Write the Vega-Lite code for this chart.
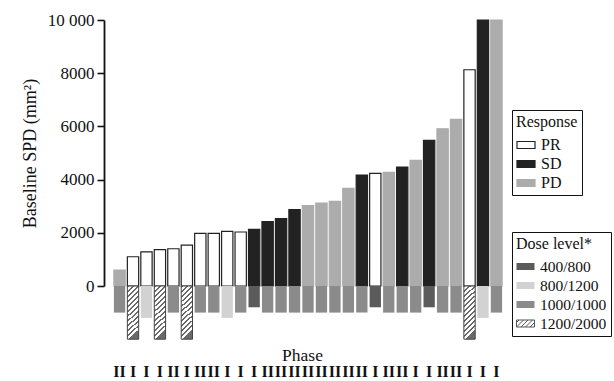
{
  "$schema": "https://vega.github.io/schema/vega-lite/v6.json",
  "width": 396,
  "height": 361,
  "autosize": {"type": "none"},
  "padding": {"left": 110, "top": 20, "right": 108, "bottom": 0},
  "background": "white",
  "config": {"font": "Liberation Serif", "view": {"stroke": null}, "axis": {"grid": false}},
  "data": {
    "values": [
      {"id": 1, "spd": 600, "resp": "PD", "dose": "1000/1000", "dose_bar": -1000, "phase": "II"},
      {"id": 2, "spd": 1100, "resp": "PR", "dose": "1200/2000", "dose_bar": -2000, "phase": "I"},
      {"id": 3, "spd": 1280, "resp": "PR", "dose": "800/1200", "dose_bar": -1200, "phase": "I"},
      {"id": 4, "spd": 1365, "resp": "PR", "dose": "1200/2000", "dose_bar": -2000, "phase": "I"},
      {"id": 5, "spd": 1400, "resp": "PR", "dose": "1000/1000", "dose_bar": -1000, "phase": "II"},
      {"id": 6, "spd": 1540, "resp": "PR", "dose": "1200/2000", "dose_bar": -2000, "phase": "I"},
      {"id": 7, "spd": 1980, "resp": "PR", "dose": "1000/1000", "dose_bar": -1000, "phase": "II"},
      {"id": 8, "spd": 1980, "resp": "PR", "dose": "1000/1000", "dose_bar": -1000, "phase": "II"},
      {"id": 9, "spd": 2050, "resp": "PR", "dose": "800/1200", "dose_bar": -1200, "phase": "I"},
      {"id": 10, "spd": 2030, "resp": "PR", "dose": "1000/1000", "dose_bar": -1000, "phase": "I"},
      {"id": 11, "spd": 2130, "resp": "SD", "dose": "400/800", "dose_bar": -800, "phase": "I"},
      {"id": 12, "spd": 2420, "resp": "SD", "dose": "1000/1000", "dose_bar": -1000, "phase": "II"},
      {"id": 13, "spd": 2530, "resp": "SD", "dose": "1000/1000", "dose_bar": -1000, "phase": "II"},
      {"id": 14, "spd": 2870, "resp": "SD", "dose": "1000/1000", "dose_bar": -1000, "phase": "II"},
      {"id": 15, "spd": 3020, "resp": "PD", "dose": "1000/1000", "dose_bar": -1000, "phase": "II"},
      {"id": 16, "spd": 3120, "resp": "PD", "dose": "1000/1000", "dose_bar": -1000, "phase": "II"},
      {"id": 17, "spd": 3180, "resp": "PD", "dose": "1000/1000", "dose_bar": -1000, "phase": "II"},
      {"id": 18, "spd": 3670, "resp": "PD", "dose": "1000/1000", "dose_bar": -1000, "phase": "II"},
      {"id": 19, "spd": 4170, "resp": "SD", "dose": "1000/1000", "dose_bar": -1000, "phase": "II"},
      {"id": 20, "spd": 4235, "resp": "PR", "dose": "400/800", "dose_bar": -800, "phase": "I"},
      {"id": 21, "spd": 4270, "resp": "PD", "dose": "1000/1000", "dose_bar": -1000, "phase": "II"},
      {"id": 22, "spd": 4470, "resp": "SD", "dose": "1000/1000", "dose_bar": -1000, "phase": "II"},
      {"id": 23, "spd": 4720, "resp": "PD", "dose": "1000/1000", "dose_bar": -1000, "phase": "I"},
      {"id": 24, "spd": 5475, "resp": "SD", "dose": "400/800", "dose_bar": -800, "phase": "I"},
      {"id": 25, "spd": 5910, "resp": "PD", "dose": "1000/1000", "dose_bar": -1000, "phase": "II"},
      {"id": 26, "spd": 6265, "resp": "PD", "dose": "1000/1000", "dose_bar": -1000, "phase": "II"},
      {"id": 27, "spd": 8130, "resp": "PR", "dose": "1200/2000", "dose_bar": -2000, "phase": "I"},
      {"id": 28, "spd": 10000, "resp": "SD", "dose": "800/1200", "dose_bar": -1200, "phase": "I"},
      {"id": 29, "spd": 10000, "resp": "PD", "dose": "1000/1000", "dose_bar": -1000, "phase": "I"}
    ]
  },
  "encoding": {
    "x": {
      "field": "id",
      "type": "ordinal",
      "scale": {"paddingInner": 0.16, "paddingOuter": 0.29},
      "axis": {
        "labels": false,
        "ticks": false,
        "domain": false,
        "title": "Phase",
        "titleFont": "Liberation Serif",
        "titleFontSize": 17.5,
        "titleFontWeight": "normal",
        "titleColor": "#111",
        "titleBaseline": "alphabetic",
        "titleX": 192,
        "titleY": -21
      }
    }
  },
  "layer": [
    {
      "mark": {"type": "bar", "strokeWidth": 1.2},
      "encoding": {
        "y": {
          "field": "spd",
          "type": "quantitative",
          "title": "Baseline SPD (mm²)",
          "scale": {"domain": [0, 10000], "range": [266, 0], "nice": false, "zero": false},
          "axis": {
            "values": [0, 2000, 4000, 6000, 8000, 10000],
            "labelExpr": "datum.value == 10000 ? '10 000' : format(datum.value, 'd')",
            "labelFont": "Liberation Serif",
            "labelFontSize": 17,
            "labelColor": "#111",
            "labelPadding": 3,
            "tickSize": 7,
            "tickWidth": 1.6,
            "tickColor": "#111",
            "domainColor": "#111",
            "domainWidth": 1.8,
            "offset": 6,
            "title": "Baseline SPD (mm²)",
            "titleFont": "Liberation Serif",
            "titleFontSize": 18,
            "titleFontWeight": "normal",
            "titleColor": "#111",
            "titlePadding": 8
          }
        },
        "fill": {
          "field": "resp",
          "type": "nominal",
          "scale": {"domain": ["PR", "SD", "PD"], "range": ["#ffffff", "#222222", "#acacac"]},
          "legend": {
            "title": "Response",
            "orient": "none",
            "legendX": 402,
            "legendY": 90,
            "padding": 4,
            "strokeColor": "#111",
            "fillColor": "white",
            "titleFont": "Liberation Serif",
            "titleFontSize": 16,
            "titleFontWeight": "normal",
            "titleColor": "#111",
            "titlePadding": 5,
            "labelFont": "Liberation Serif",
            "labelFontSize": 16,
            "labelColor": "#111",
            "labelOffset": 5,
            "symbolType": "M-1,-0.39H1V0.39H-1Z",
            "symbolSize": 324,
            "symbolStrokeWidth": 1.2,
            "rowPadding": 1
          }
        },
        "stroke": {
          "field": "resp",
          "type": "nominal",
          "scale": {"domain": ["PR", "SD", "PD"], "range": ["#222222", "#222222", "#acacac"]},
          "legend": {
            "title": "Response",
            "orient": "none",
            "legendX": 402,
            "legendY": 90,
            "padding": 4,
            "strokeColor": "#111",
            "fillColor": "white",
            "titleFont": "Liberation Serif",
            "titleFontSize": 16,
            "titleFontWeight": "normal",
            "titleColor": "#111",
            "titlePadding": 5,
            "labelFont": "Liberation Serif",
            "labelFontSize": 16,
            "labelColor": "#111",
            "labelOffset": 5,
            "symbolType": "M-1,-0.39H1V0.39H-1Z",
            "symbolSize": 324,
            "symbolStrokeWidth": 1.2,
            "rowPadding": 1
          }
        }
      }
    },
    {
      "mark": {"type": "bar"},
      "encoding": {
        "y": {"field": "dose_bar", "type": "quantitative", "title": "Baseline SPD (mm²)"},
        "fill": {
          "field": "dose",
          "type": "nominal",
          "scale": {"domain": ["400/800", "800/1200", "1000/1000", "1200/2000"], "range": ["#5b5b5b", "#d2d2d2", "#8b8b8b", "#ffffff"]},
          "legend": {
            "title": "Dose level*",
            "orient": "none",
            "legendX": 402,
            "legendY": 212,
            "padding": 4,
            "strokeColor": "#111",
            "fillColor": "white",
            "titleFont": "Liberation Serif",
            "titleFontSize": 16,
            "titleFontWeight": "normal",
            "titleColor": "#111",
            "titlePadding": 5,
            "labelFont": "Liberation Serif",
            "labelFontSize": 15.5,
            "labelColor": "#111",
            "labelOffset": 5,
            "symbolType": "M-1,-0.39H1V0.39H-1Z",
            "symbolSize": 324,
            "rowPadding": 1,
            "encode": {
              "symbols": {
                "update": {
                  "shape": [
                    {"test": "datum.value === '1200/2000'", "value": "M-1,-0.39H1V0.39H-1Z M-1,-0.11L-0.72,-0.39 M-1,0.39L-0.22,-0.39 M-0.5,0.39L0.28,-0.39 M0,0.39L0.78,-0.39 M0.5,0.39L1,-0.11"},
                    {"value": "M-1,-0.39H1V0.39H-1Z"}
                  ],
                  "stroke": [
                    {"test": "datum.value === '1200/2000'", "value": "#555555"},
                    {"value": "transparent"}
                  ],
                  "strokeWidth": {"value": 1},
                  "opacity": {"value": 1}
                }
              }
            }
          }
        }
      }
    },
    {
      "transform": [{"filter": "datum.dose === '1200/2000'"}],
      "mark": {
        "type": "bar",
        "stroke": "#444444",
        "strokeWidth": 1,
        "fill": {"gradient": "linear", "x1": 0, "y1": 0, "x2": 0.2037, "y2": 1, "stops": [
          {"offset": 0, "color": "#6a6a6a"}, {"offset": 0.035, "color": "#6a6a6a"}, {"offset": 0.035, "color": "#ffffff"},
          {"offset": 0.089, "color": "#ffffff"}, {"offset": 0.089, "color": "#6a6a6a"}, {"offset": 0.124, "color": "#6a6a6a"}, {"offset": 0.124, "color": "#ffffff"},
          {"offset": 0.178, "color": "#ffffff"}, {"offset": 0.178, "color": "#6a6a6a"}, {"offset": 0.213, "color": "#6a6a6a"}, {"offset": 0.213, "color": "#ffffff"},
          {"offset": 0.267, "color": "#ffffff"}, {"offset": 0.267, "color": "#6a6a6a"}, {"offset": 0.302, "color": "#6a6a6a"}, {"offset": 0.302, "color": "#ffffff"},
          {"offset": 0.356, "color": "#ffffff"}, {"offset": 0.356, "color": "#6a6a6a"}, {"offset": 0.391, "color": "#6a6a6a"}, {"offset": 0.391, "color": "#ffffff"},
          {"offset": 0.445, "color": "#ffffff"}, {"offset": 0.445, "color": "#6a6a6a"}, {"offset": 0.48, "color": "#6a6a6a"}, {"offset": 0.48, "color": "#ffffff"},
          {"offset": 0.534, "color": "#ffffff"}, {"offset": 0.534, "color": "#6a6a6a"}, {"offset": 0.569, "color": "#6a6a6a"}, {"offset": 0.569, "color": "#ffffff"},
          {"offset": 0.623, "color": "#ffffff"}, {"offset": 0.623, "color": "#6a6a6a"}, {"offset": 0.658, "color": "#6a6a6a"}, {"offset": 0.658, "color": "#ffffff"},
          {"offset": 0.712, "color": "#ffffff"}, {"offset": 0.712, "color": "#6a6a6a"}, {"offset": 0.747, "color": "#6a6a6a"}, {"offset": 0.747, "color": "#ffffff"},
          {"offset": 0.801, "color": "#ffffff"}, {"offset": 0.801, "color": "#6a6a6a"}, {"offset": 0.836, "color": "#6a6a6a"}, {"offset": 0.836, "color": "#ffffff"},
          {"offset": 0.89, "color": "#ffffff"}, {"offset": 0.89, "color": "#6a6a6a"}, {"offset": 0.925, "color": "#6a6a6a"}, {"offset": 0.925, "color": "#ffffff"},
          {"offset": 0.979, "color": "#ffffff"}, {"offset": 0.979, "color": "#6a6a6a"}, {"offset": 1, "color": "#6a6a6a"}
        ]}
      },
      "encoding": {
        "y": {"field": "dose_bar", "type": "quantitative", "title": "Baseline SPD (mm²)"}
      }
    },
    {
      "mark": {"type": "rule", "color": "#111", "strokeWidth": 2},
      "encoding": {
        "y": {"datum": 0, "type": "quantitative", "title": "Baseline SPD (mm²)"}
      }
    },
    {
      "mark": {"type": "text", "font": "Liberation Serif", "fontSize": 16, "fontWeight": "bold", "baseline": "middle", "color": "#111"},
      "encoding": {
        "y": {"datum": -3240, "type": "quantitative", "title": "Baseline SPD (mm²)"},
        "text": {"field": "phase", "type": "nominal"}
      }
    }
  ],
  "resolve": {
    "scale": {"fill": "independent", "stroke": "independent"},
    "legend": {"fill": "independent", "stroke": "independent"}
  }
}
